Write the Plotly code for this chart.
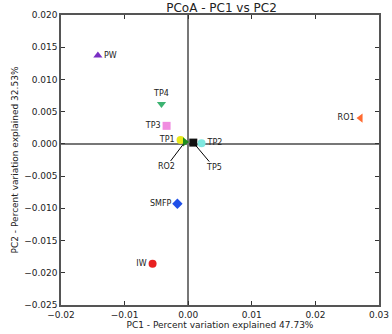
import plotly.graph_objects as go

# sample names and PCoA coordinates
samples = ["PW", "TP4", "TP3", "TP1", "RO2", "TP5", "TP2", "RO1", "SMFP", "IW"]
pc1 = [-0.0142, -0.0042, -0.0034, -0.0012, -0.0005, 0.0008, 0.0021, 0.0271, -0.0017, -0.0056]
pc2 = [0.0137, 0.0062, 0.0028, 0.0006, 0.0003, 0.0002, 0.0001, 0.0040, -0.0093, -0.0186]
symbols = ["triangle-up", "triangle-down", "square", "circle", "triangle-right",
           "square", "circle", "triangle-left", "diamond", "circle"]
colors = ["#7a2fc4", "#3cb371", "#f08ce0", "#e8e81a", "#1e8c1e",
          "#111111", "#7fe8e0", "#ff6a30", "#1f4fe8", "#e82020"]
label_pos = ["middle right", "top center", "middle left", "middle left", None,
             None, "middle right", "middle left", "middle left", "middle left"]

x_ticks = [-0.02, -0.01, 0.0, 0.01, 0.02, 0.03]
y_ticks = [0.020, 0.015, 0.010, 0.005, 0.000, -0.005, -0.010, -0.015, -0.020, -0.025]

fig = go.Figure()

# labelled points
for i in range(len(samples)):
	fig.add_trace(go.Scatter(
		x=[pc1[i]], y=[pc2[i]],
		mode="markers+text" if label_pos[i] else "markers",
		text=[samples[i]] if label_pos[i] else None,
		textposition=label_pos[i] if label_pos[i] else None,
		textfont=dict(size=8, color="#222222", family="DejaVu Sans"),
		marker=dict(symbol=symbols[i], color=colors[i], size=8, line=dict(width=0)),
		showlegend=False,
		cliponaxis=False,
	))

# RO2 and TP5 sit in the crowd, so they get callout lines
fig.add_annotation(x=pc1[4], y=pc2[4], text="RO2", showarrow=True, arrowhead=0,
	arrowwidth=1, arrowcolor="black", ax=-19, ay=25, standoff=3,
	font=dict(size=8, color="#222222", family="DejaVu Sans"))
fig.add_annotation(x=pc1[5], y=pc2[5], text="TP5", showarrow=True, arrowhead=0,
	arrowwidth=1, arrowcolor="black", ax=21, ay=25, standoff=3,
	font=dict(size=8, color="#222222", family="DejaVu Sans"))

fig.update_layout(
	autosize=False,
	width=392,
	height=334,
	plot_bgcolor="white",
	paper_bgcolor="white",
	font=dict(family="DejaVu Sans", size=9, color="#222222"),
	title=dict(text="PCoA - PC1 vs PC2", x=0.565, xanchor="center",
		yref="container", y=0.976, yanchor="middle", pad=dict(t=0, b=0),
		font=dict(size=12, family="DejaVu Sans", color="#222222")),
	xaxis=dict(
		title=dict(text="PC1 - Percent variation explained 47.73%", font=dict(size=9), standoff=2),
		range=[-0.02, 0.03],
		tickvals=x_ticks,
		tickformat=".2f",
		showline=True, linewidth=1.5, linecolor="#555555", mirror="allticks",
		ticks="inside", ticklen=4, tickcolor="#333333",
		showgrid=False,
		zeroline=True, zerolinecolor="#777777", zerolinewidth=1.5,
		tickfont=dict(size=9),
		automargin=False,
	),
	yaxis=dict(
		title=dict(text="PC2 - Percent variation explained 32.53%", font=dict(size=9), standoff=4),
		range=[-0.025, 0.020],
		tickvals=y_ticks,
		tickformat=".3f",
		showline=True, linewidth=1.5, linecolor="#555555", mirror="allticks",
		ticks="inside", ticklen=4, tickcolor="#333333",
		showgrid=False,
		zeroline=True, zerolinecolor="#777777", zerolinewidth=1.5,
		tickfont=dict(size=9),
		automargin=False,
	),
	margin=go.layout.Margin(l=61, r=13, t=15, b=29),
)

# drop the page's default body margin so the figure sits at the window corner
fig.write_html("out.html", config={"displayModeBar": False},
	post_script="document.body.style.margin='0';")
